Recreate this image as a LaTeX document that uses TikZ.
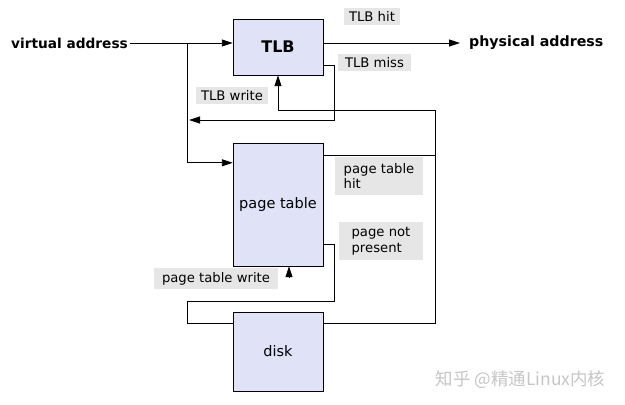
\documentclass[tikz,border=0pt]{standalone}
\usepackage{fontspec}
\setmainfont{DejaVu Sans}
\newfontfamily\cjkfont{Noto Sans CJK SC}
\usetikzlibrary{arrows.meta}
\definecolor{boxfill}{HTML}{E0E2F8}
\definecolor{tagfill}{HTML}{E6E6E6}

\begin{document}
\begin{tikzpicture}[x=1pt,y=-1pt,
	unit/.style={draw,fill=boxfill,inner sep=0pt,minimum width=90pt,font=\fontsize{14.5}{16}\selectfont},
	tag/.style={fill=tagfill,inner sep=3pt,align=left,font=\fontsize{13.2}{15.5}\selectfont},
	flow/.style={line width=.9pt},
	arr/.style={flow,-{Triangle[length=11pt,width=7pt]}}]
	\useasboundingbox (0,0) rectangle (625,405);
	% boxes
	\node(tlb)[unit,minimum height=56pt,font=\bfseries\fontsize{16}{18}\selectfont] at (278,47) {TLB};
	\node(pt)[unit,minimum height=123pt] at (278,204.5) {page table};
	\node(disk)[unit,minimum height=79pt] at (278,351.5) {disk};
	\node(va)[anchor=east,inner sep=2pt,font=\bfseries\fontsize{13.7}{16}\selectfont] at (130,43) {virtual address};
	\node(pa)[anchor=west,inner sep=2pt,font=\bfseries\fontsize{14.2}{16}\selectfont] at (467,43) {physical address};
	% labels
	\node(hit)[tag,minimum width=56pt,minimum height=17pt] at (372,16.5) {TLB hit};
	\node(miss)[tag,minimum width=73pt,minimum height=17pt] at (374.5,62.5) {TLB miss};
	\node(tw)[tag,minimum width=72pt,minimum height=17pt] at (232,95.5) {TLB write};
	\node(pth)[tag,minimum width=88pt,minimum height=38pt] at (379,176) {page table\\hit};
	\node(pnp)[tag,minimum width=84pt,minimum height=38pt] at (381,241) {page not\\present};
	\node(ptw)[tag,minimum width=124pt,minimum height=21pt] at (216,278.5) {page table write};
	\node(mark)[anchor=east,text=gray!45,font=\cjkfont\fontsize{17.5}{19}\selectfont] at (609,380) {知乎 @精通Linux内核};
	% connectors
	\coordinate (split) at (187,43);
	\coordinate (back) at (189,120);
	\coordinate (rise) at (435,110);
	\coordinate (ptup) at (289,278);
	\draw[arr] (va.east) -- (va.east -| tlb.west);
	\draw[arr] (split) |- ([yshift=-20pt]pt.north west);
	\draw[arr,shorten >=7pt] (tlb.east |- va.east) -- (pa.west);
	\draw[arr] ([yshift=-18pt]tlb.east) -- ++(11,0) |- (back);
	\draw[arr] ([yshift=28.5pt]disk.east) -| (rise) -| (tlb.south);
	\draw[flow] ([yshift=49.5pt]pt.east) -- ++(112,0);
	\draw[flow] ([yshift=-39.5pt]pt.east) -- ++(11,0) |- (187,301) |- ([yshift=28.5pt]disk.west);
	\draw[arr] (ptup) -- (ptup |- pt.south);
\end{tikzpicture}
\end{document}
